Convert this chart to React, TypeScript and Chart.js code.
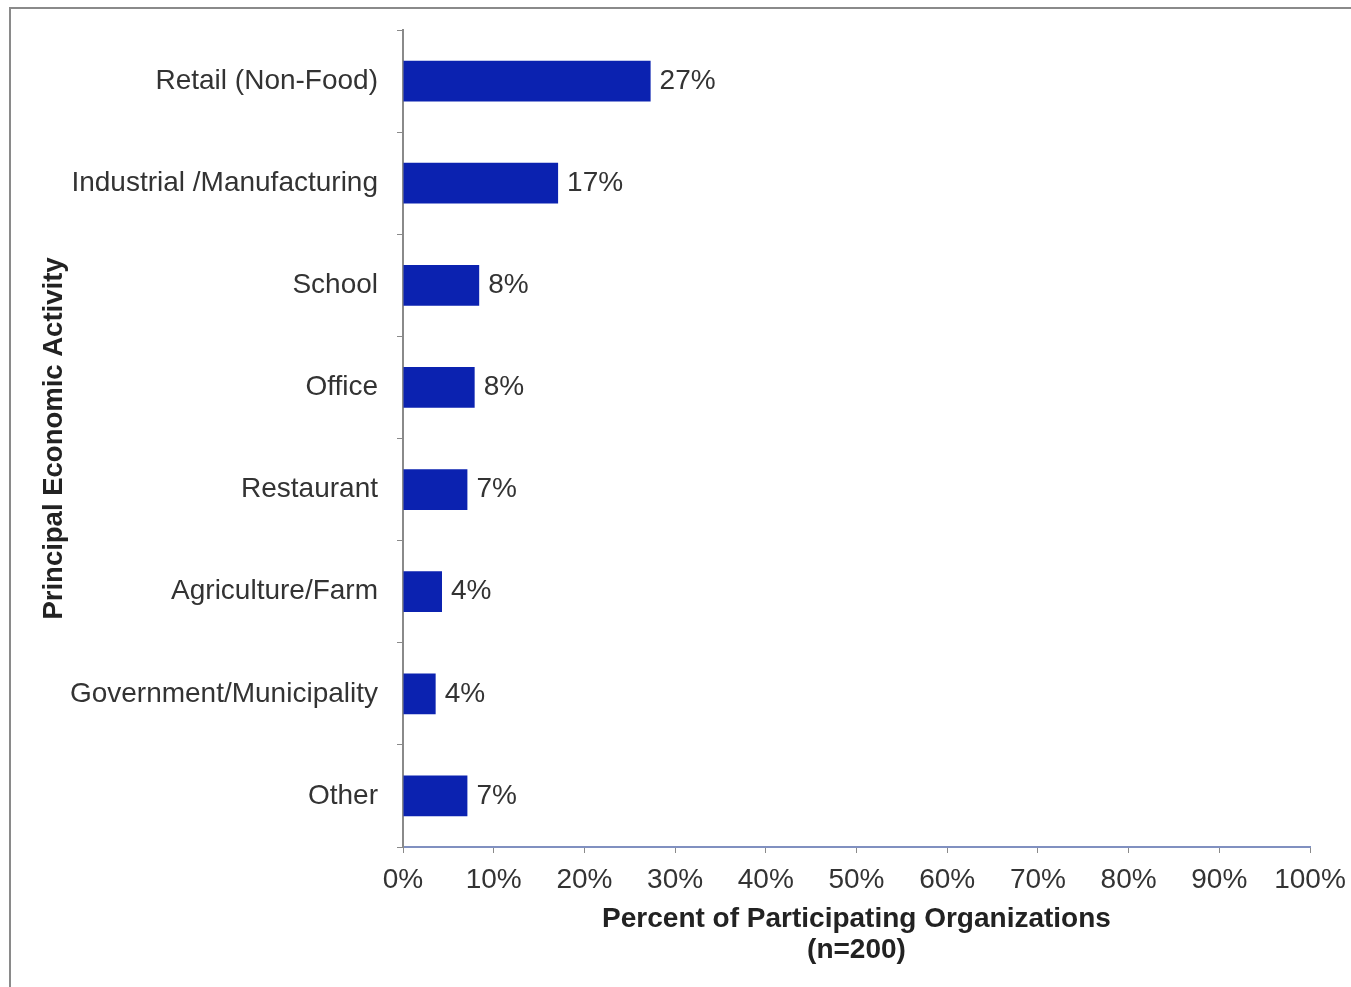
import React, { useEffect, useRef } from "react";
import { Chart, registerables } from "chart.js";

Chart.register(...registerables);

const categories = [
  "Retail (Non-Food)",
  "Industrial /Manufacturing",
  "School",
  "Office",
  "Restaurant",
  "Agriculture/Farm",
  "Government/Municipality",
  "Other",
];
const percentValues = [27.3, 17.1, 8.4, 7.9, 7.1, 4.3, 3.6, 7.1];
const valueLabels = ["27%", "17%", "8%", "8%", "7%", "4%", "4%", "7%"];
const xTickValues = [0, 10, 20, 30, 40, 50, 60, 70, 80, 90, 100];
const xTitle = ["Percent of Participating Organizations", "(n=200)"];
const yTitle = "Principal Economic Activity";

const FONT = "'Liberation Sans', Arial, sans-serif";

const valueLabelPlugin = {
  id: "valueLabels",
  afterDatasetsDraw(chart: any) {
    const ctx = chart.ctx;
    const meta = chart.getDatasetMeta(0);
    ctx.save();
    ctx.font = `28px ${FONT}`;
    ctx.fillStyle = "#333333";
    ctx.textAlign = "left";
    ctx.textBaseline = "middle";
    meta.data.forEach((bar: any, i: number) => {
      ctx.fillText(valueLabels[i], bar.x + 9, bar.y);
    });
    ctx.restore();
  },
};

export default function App() {
  const canvasRef = useRef<HTMLCanvasElement | null>(null);

  useEffect(() => {
    if (!canvasRef.current) return;
    const chart = new Chart(canvasRef.current, {
      type: "bar",
      data: {
        labels: categories,
        datasets: [
          {
            data: percentValues,
            backgroundColor: "#0b22b0",
            borderWidth: 0,
            categoryPercentage: 1,
            barPercentage: 0.4,
          },
        ],
      },
      options: {
        indexAxis: "y",
        responsive: false,
        animation: false,
        layout: { padding: { left: 20, top: 30, right: 41, bottom: 20 } },
        plugins: {
          legend: { display: false },
          tooltip: { enabled: false },
        },
        scales: {
          x: {
            type: "linear",
            min: 0,
            max: 100,
            afterBuildTicks: (scale: any) => {
              scale.ticks = xTickValues.map((v) => ({ value: v }));
            },
            afterFit: (scale: any) => {
              scale.height = 120;
              scale.paddingLeft = 0;
              scale.paddingRight = 0;
            },
            ticks: {
              callback: (v: any) => `${v}%`,
              font: { family: FONT, size: 28 },
              color: "#333333",
              padding: 10,
              maxRotation: 0,
              autoSkip: false,
            },
            grid: {
              display: true,
              drawOnChartArea: false,
              drawTicks: true,
              tickLength: 6,
              color: "#8a8a8a",
            },
            border: { display: true, color: "#8090c0", width: 2 },
            title: {
              display: true,
              text: xTitle,
              font: { family: FONT, size: 28, weight: "bold", lineHeight: 1.11 },
              color: "#222222",
              padding: { top: 0, bottom: 1.5 },
            },
          },
          y: {
            type: "category",
            afterFit: (scale: any) => {
              scale.width = 383;
              scale.paddingTop = 0;
              scale.paddingBottom = 0;
            },
            ticks: {
              font: { family: FONT, size: 28 },
              color: "#333333",
              padding: 19,
            },
            grid: {
              display: true,
              offset: true,
              drawOnChartArea: false,
              drawTicks: true,
              tickLength: 6,
              color: "#8a8a8a",
            },
            border: { display: true, color: "#8a8a8a", width: 2 },
            title: {
              display: true,
              text: yTitle,
              font: { family: FONT, size: 27.5, weight: "bold", lineHeight: 1.2 },
              color: "#222222",
              padding: { top: 17.5, bottom: 0 },
            },
          },
        },
      },
      plugins: [valueLabelPlugin],
    } as any);
    return () => chart.destroy();
  }, []);

  return (
    <div
      style={{
        position: "absolute",
        left: 0,
        top: 0,
        width: 1351,
        height: 987,
        background: "#ffffff",
        overflow: "hidden",
      }}
    >
      <div
        style={{
          position: "absolute",
          left: 9,
          top: 7,
          right: -10,
          bottom: -10,
          borderLeft: "2px solid #8a8a8a",
          borderTop: "2px solid #8a8a8a",
        }}
      />
      <canvas
        ref={canvasRef}
        width={1351}
        height={987}
        style={{ position: "absolute", left: 0, top: 0 }}
      />
    </div>
  );
}
